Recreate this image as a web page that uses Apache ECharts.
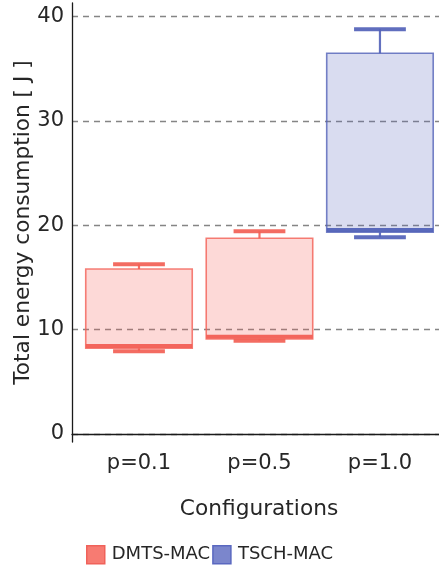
<!DOCTYPE html>
<html>
<head>
<meta charset="utf-8">
<title>Total energy consumption</title>
<script src="https://cdn.jsdelivr.net/npm/echarts@6/dist/echarts.min.js"></script>
<style>
  html, body { margin: 0; padding: 0; background: #ffffff; }
  #chart { width: 439px; height: 569px; }
</style>
</head>
<body>
<div id="chart"></div>
<script>
// Configurations on the x axis
const categories = ['p=0.1', 'p=0.5', 'p=1.0'];
const yTickValues = [0, 10, 20, 30, 40];

// DMTS-MAC box statistics (J)
const dmtsConfigs = ['p=0.1', 'p=0.5'];
const dmtsLow    = [7.93, 8.94];
const dmtsQ1     = [8.21, 9.10];
const dmtsMedian = [8.43, 9.32];
const dmtsQ3     = [15.81, 18.75];
const dmtsHigh   = [16.26, 19.43];

// TSCH-MAC box statistics (J)
const tschConfigs = ['p=1.0'];
const tschLow    = [18.85];
const tschQ1     = [19.33];
const tschMedian = [19.55];
const tschQ3     = [36.48];
const tschHigh   = [38.78];

const RED = '#f25f55';
const BLUE = '#5262b8';
const TEXT = '#262626';
const FONT = 'DejaVu Sans';

function rows(configs, low, q1, med, q3, high) {
  return configs.map((c, i) => [categories.indexOf(c), low[i], q1[i], med[i], q3[i], high[i]]);
}

function makeRenderer(color, fill) {
  return function (params, api) {
    const x = api.value(0);
    const lo = api.coord([x, api.value(1)]);
    const q1 = api.coord([x, api.value(2)]);
    const md = api.coord([x, api.value(3)]);
    const q3 = api.coord([x, api.value(4)]);
    const hi = api.coord([x, api.value(5)]);
    const boxW = api.size([0.884, 0])[0];
    const capW = api.size([0.43, 0])[0];
    const cx = q1[0];
    return {
      type: 'group',
      children: [
        { type: 'line', shape: { x1: cx, y1: q3[1], x2: cx, y2: hi[1] },
          style: { stroke: color, lineWidth: 2.2, opacity: 0.9 } },
        { type: 'line', shape: { x1: cx, y1: q1[1], x2: cx, y2: lo[1] },
          style: { stroke: color, lineWidth: 2.2, opacity: 0.9 } },
        { type: 'rect', shape: { x: cx - boxW / 2, y: q3[1], width: boxW, height: q1[1] - q3[1] },
          style: { fill: fill, stroke: color, lineWidth: 1.6, strokeOpacity: 0.8 } },
        { type: 'line', shape: { x1: cx - boxW / 2, y1: md[1], x2: cx + boxW / 2, y2: md[1] },
          style: { stroke: color, lineWidth: 4, opacity: 0.95 } },
        { type: 'line', shape: { x1: cx - capW / 2, y1: hi[1], x2: cx + capW / 2, y2: hi[1] },
          style: { stroke: color, lineWidth: 4, opacity: 0.92 } },
        { type: 'line', shape: { x1: cx - capW / 2, y1: lo[1], x2: cx + capW / 2, y2: lo[1] },
          style: { stroke: color, lineWidth: 4, opacity: 0.92 } }
      ]
    };
  };
}

const chart = echarts.init(document.getElementById('chart'), null, { renderer: 'canvas' });

chart.setOption({
  animation: false,
  backgroundColor: '#ffffff',
  textStyle: { fontFamily: FONT },
  grid: { left: 72, right: 0, top: 3, bottom: 127, containLabel: false, outerBoundsMode: 'none' },
  legend: {
    left: 86,
    top: 545,
    padding: 0,
    itemWidth: 18,
    itemHeight: 18,
    itemGap: 2,
    textStyle: { fontFamily: FONT, fontSize: 18, color: TEXT, padding: [0, 0, 0, 2] },
    data: [
      { name: 'DMTS-MAC', icon: 'rect',
        itemStyle: { color: '#f77b72', borderColor: '#f0625a', borderWidth: 1.5 } },
      { name: 'TSCH-MAC', icon: 'rect',
        itemStyle: { color: '#7b86cc', borderColor: '#5a68c0', borderWidth: 1.5 } }
    ]
  },
  xAxis: {
    type: 'value',
    min: -0.556,
    max: 2.49,
    name: 'Configurations',
    nameLocation: 'middle',
    nameGap: 56,
    nameMoveOverlap: false,
    nameTextStyle: { fontFamily: FONT, fontSize: 21.7, color: TEXT, padding: [0, 0, 0, 7] },
    axisLine: { show: true, onZero: true, lineStyle: { color: '#1a1a1a', width: 1.3 } },
    axisTick: { show: false },
    splitLine: { show: false },
    axisLabel: {
      customValues: [0, 1, 2],
      formatter: v => categories[Math.round(v)],
      fontFamily: FONT, fontSize: 21, color: TEXT, margin: 11
    }
  },
  yAxis: {
    type: 'value',
    min: -0.77,
    max: 41.3,
    name: 'Total energy consumption [ J ]',
    nameLocation: 'middle',
    nameGap: 38,
    nameMoveOverlap: false,
    nameTextStyle: { fontFamily: FONT, fontSize: 21.7, color: TEXT },
    axisLine: { show: true, onZero: false, lineStyle: { color: '#1a1a1a', width: 1.3 } },
    axisTick: { show: false, customValues: yTickValues },
    axisLabel: {
      customValues: yTickValues,
      fontFamily: FONT, fontSize: 21, color: TEXT, margin: 8
    },
    splitLine: {
      show: true,
      lineStyle: { color: '#858585', width: 1.3, type: [6, 5] }
    }
  },
  series: [
    {
      name: 'DMTS-MAC',
      type: 'custom',
      itemStyle: { color: '#f77b72' },
      renderItem: makeRenderer(RED, 'rgba(246,100,90,0.245)'),
      encode: { x: 0, y: [1, 2, 3, 4, 5] },
      data: rows(dmtsConfigs, dmtsLow, dmtsQ1, dmtsMedian, dmtsQ3, dmtsHigh)
    },
    {
      name: 'TSCH-MAC',
      type: 'custom',
      itemStyle: { color: '#7b86cc' },
      renderItem: makeRenderer(BLUE, 'rgba(90,105,190,0.233)'),
      encode: { x: 0, y: [1, 2, 3, 4, 5] },
      data: rows(tschConfigs, tschLow, tschQ1, tschMedian, tschQ3, tschHigh)
    }
  ]
});
</script>
</body>
</html>
